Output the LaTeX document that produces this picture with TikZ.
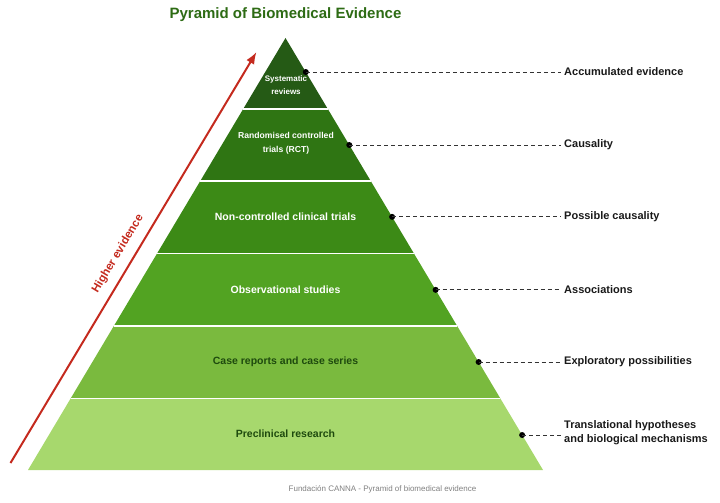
\documentclass[tikz,border=0pt]{standalone}
\usepackage{fontspec}
\setmainfont{Liberation Sans}
\usetikzlibrary{calc,arrows.meta}
\definecolor{lay1}{HTML}{255A15}
\definecolor{lay2}{HTML}{2F7513}
\definecolor{lay3}{HTML}{3C8A16}
\definecolor{lay4}{HTML}{52A322}
\definecolor{lay5}{HTML}{7ABA3E}
\definecolor{lay6}{HTML}{A7D86D}
\definecolor{titlegreen}{HTML}{2D6B14}
\definecolor{darktxt}{HTML}{1E4A0E}
\definecolor{arrowred}{HTML}{C42A1E}
\begin{document}
\begin{tikzpicture}[x=1pt,y=-1pt,
  laytext/.style={font=\fontsize{10.5}{13}\selectfont\bfseries, text=white, align=center, inner sep=0pt},
  laydark/.style={laytext, text=darktxt},
  dotnode/.style={circle, fill=black, inner sep=0pt, minimum size=6pt},
  lab/.style={font=\fontsize{11}{14}\selectfont\bfseries, text=black!90, align=left, anchor=west, inner sep=3pt},
  leader/.style={dashed, dash pattern=on 4pt off 3pt, line width=0.8pt, draw=black!80},
  sep/.style={draw=white, line width=1.8pt}]
\useasboundingbox (0,0) rectangle (720,503);
\coordinate (A) at (285.5,38);
\coordinate (BL) at (28,470);
\coordinate (BR) at (543,470);
% layer boundaries
\foreach \k/\f in {1/0.1644,2/0.331,3/0.4988,4/0.6667,5/0.8345,6/1}{
  \coordinate (L\k) at ($(A)!\f!(BL)$);
  \coordinate (R\k) at ($(A)!\f!(BR)$);
}
\fill[lay1] (A) -- (R1) -- (L1) -- cycle;
\fill[lay2] (L1) -- (R1) -- (R2) -- (L2) -- cycle;
\fill[lay3] (L2) -- (R2) -- (R3) -- (L3) -- cycle;
\fill[lay4] (L3) -- (R3) -- (R4) -- (L4) -- cycle;
\fill[lay5] (L4) -- (R4) -- (R5) -- (L5) -- cycle;
\fill[lay6] (L5) -- (R5) -- (R6) -- (L6) -- cycle;
\foreach \k in {1,...,5}{ \draw[sep] (L\k) -- (R\k); }
% title
\node[font=\fontsize{15}{18}\selectfont\bfseries, text=titlegreen] (title) at (285.5,15) {Pyramid of Biomedical Evidence};
% layer texts
\node[laytext, font=\fontsize{8}{13}\selectfont\bfseries] (t1) at (286,85.5) {Systematic\\reviews};
\node[laytext, font=\fontsize{8.6}{14}\selectfont\bfseries] (t2) at (286,143) {Randomised controlled\\trials (RCT)};
\node[laytext] (t3) at (285.5,217) {Non-controlled clinical trials};
\node[laytext] (t4) at (285.5,290) {Observational studies};
\node[laydark] (t5) at (285.5,362) {Case reports and case series};
\node[laydark] (t6) at (285.5,434) {Preclinical research};
% dots
\node[dotnode] (d1) at ($(A)!0.0787!(BR)$) {};
\node[dotnode] (d2) at ($(A)!0.2477!(BR)$) {};
\node[dotnode] (d3) at ($(A)!0.414!(BR)$) {};
\node[dotnode] (d4) at ($(A)!0.583!(BR)$) {};
\node[dotnode] (d5) at ($(A)!0.75!(BR)$) {};
\node[dotnode] (d6) at ($(A)!0.919!(BR)$) {};
% labels
\node[lab] (l1) at (561,72) {Accumulated evidence};
\node[lab] (l2) at (561,145) {Causality};
\node[lab] (l3) at (561,217) {Possible causality};
\node[lab] (l4) at (561,290) {Associations};
\node[lab] (l5) at (561,362) {Exploratory possibilities};
\node[lab] (l6) at (561,433) {Translational hypotheses\\and biological mechanisms};
\foreach \k in {1,...,6}{ \draw[leader] (d\k.center) -- (d\k.center -| l\k.west); }
% arrow
\coordinate (arrS) at (10.5,463);
\coordinate (arrE) at (256.5,52);
\draw[arrowred, line width=2pt, -{Latex[length=12pt,width=9pt]}] (arrS) -- (arrE);
\node[rotate=59.1, text=arrowred, font=\fontsize{11.5}{14}\selectfont\bfseries] (hl) at (118,254) {Higher evidence};
% caption
\node[font=\fontsize{8}{10}\selectfont, text=black!50] (cap) at (382.5,489) {Fundación CANNA - Pyramid of biomedical evidence};
\end{tikzpicture}
\end{document}
